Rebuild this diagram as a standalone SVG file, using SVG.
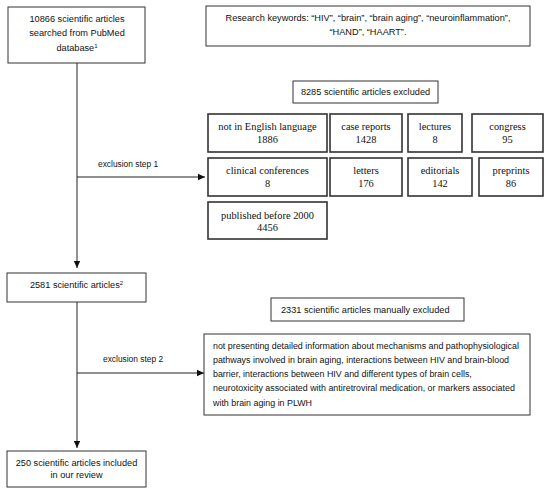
<svg xmlns="http://www.w3.org/2000/svg" width="550" height="493" viewBox="0 0 550 493">
<style>
.b{fill:#fff;stroke:#333;stroke-width:1}
.bi{fill:#fff;stroke:#333;stroke-width:1.6}
.s{font-family:"Liberation Sans",Arial,sans-serif;font-size:9.2px;fill:#111}
.t{font-size:8.9px}
.lb{font-family:"Liberation Sans",Arial,sans-serif;font-size:8.4px;fill:#111}
.r{font-family:"Liberation Serif","Times New Roman",serif;font-size:10.4px;fill:#111;text-anchor:middle}
.c{text-anchor:middle}
.ln{stroke:#222;stroke-width:1;fill:none}
.sup{font-size:6px}
</style>
<defs>
<marker id="ah" markerWidth="8" markerHeight="8" refX="7" refY="4" orient="auto" markerUnits="userSpaceOnUse">
<path d="M0,0.8 L7,4 L0,7.2 Z" fill="#111"/>
</marker>
</defs>
<rect width="550" height="493" fill="#fff"/>
<g id="connectors">
<line class="ln" x1="77" y1="63" x2="77" y2="268" marker-end="url(#ah)"/>
<line class="ln" x1="77" y1="177" x2="205" y2="177" marker-end="url(#ah)"/>
<line class="ln" x1="77" y1="302" x2="77" y2="448" marker-end="url(#ah)"/>
<line class="ln" x1="77" y1="373" x2="204" y2="373" marker-end="url(#ah)"/>
<text class="lb" x="98" y="167">exclusion step 1</text>
<text class="lb" x="103" y="362">exclusion step 2</text>
</g>
<g id="n-search">
<rect class="b" x="8" y="7" width="137" height="56"/>
<text class="s c" x="77" y="22">10866 scientific articles</text>
<text class="s c" x="77" y="36">searched from PubMed</text>
<text class="s c" x="77" y="51">database<tspan class="sup" dy="-3.5">1</tspan></text>
</g>
<g id="n-keywords">
<rect class="b" x="206" y="6" width="324" height="40"/>
<text class="s c" x="368" y="21">Research keywords: “HIV”, “brain”, “brain aging”, “neuroinflammation”,</text>
<text class="s c" x="368" y="35">“HAND”, “HAART”.</text>
</g>
<g id="n-excluded1">
<rect class="b" x="293" y="81" width="145" height="22"/>
<text class="s c" x="365.5" y="95">8285 scientific articles excluded</text>
</g>
<g id="n-english">
<rect class="bi" x="208" y="114" width="119" height="38"/>
<text class="r" x="267.5" y="130">not in English language</text>
<text class="r" x="267.5" y="143">1886</text>
</g>
<g id="n-case">
<rect class="bi" x="330" y="114" width="72" height="38"/>
<text class="r" x="366" y="130">case reports</text>
<text class="r" x="366" y="143">1428</text>
</g>
<g id="n-lectures">
<rect class="bi" x="408" y="114" width="54" height="38"/>
<text class="r" x="435" y="130">lectures</text>
<text class="r" x="435" y="143">8</text>
</g>
<g id="n-congress">
<rect class="bi" x="472" y="114" width="71" height="38"/>
<text class="r" x="507.5" y="130">congress</text>
<text class="r" x="507.5" y="143">95</text>
</g>
<g id="n-clinical">
<rect class="bi" x="208" y="158" width="119" height="38"/>
<text class="r" x="267.5" y="174">clinical conferences</text>
<text class="r" x="267.5" y="187">8</text>
</g>
<g id="n-letters">
<rect class="bi" x="330" y="158" width="72" height="38"/>
<text class="r" x="366" y="174">letters</text>
<text class="r" x="366" y="187">176</text>
</g>
<g id="n-editorials">
<rect class="bi" x="408" y="158" width="64" height="38"/>
<text class="r" x="440" y="174">editorials</text>
<text class="r" x="440" y="187">142</text>
</g>
<g id="n-preprints">
<rect class="bi" x="479" y="158" width="64" height="38"/>
<text class="r" x="511" y="174">preprints</text>
<text class="r" x="511" y="187">86</text>
</g>
<g id="n-before2000">
<rect class="bi" x="208" y="202" width="119" height="37"/>
<text class="r" x="267.5" y="219">published before 2000</text>
<text class="r" x="267.5" y="231">4456</text>
</g>
<g id="n-2581">
<rect class="b" x="7" y="273" width="139" height="29"/>
<text class="s c" x="76.5" y="288">2581 scientific articles<tspan class="sup" dy="-3.5">2</tspan></text>
</g>
<g id="n-excluded2">
<rect class="b" x="271" y="298" width="193" height="23"/>
<text class="s" x="281" y="313">2331 scientific articles manually excluded</text>
</g>
<g id="n-reasons">
<rect class="b" x="204" y="334" width="326" height="81"/>
<text class="s t" x="213" y="349">not presenting detailed information about mechanisms and pathophysiological</text>
<text class="s t" x="213" y="363">pathways involved in brain aging, interactions between HIV and brain-blood</text>
<text class="s t" x="213" y="377">barrier, interactions between HIV and different types of brain cells,</text>
<text class="s t" x="213" y="391">neurotoxicity associated with antiretroviral medication, or markers associated</text>
<text class="s t" x="213" y="406">with brain aging in PLWH</text>
</g>
<g id="n-included">
<rect class="b" x="7" y="451" width="139" height="36"/>
<text class="s c" x="76.5" y="466">250 scientific articles included</text>
<text class="s c" x="76.5" y="478">in our review</text>
</g>
</svg>
